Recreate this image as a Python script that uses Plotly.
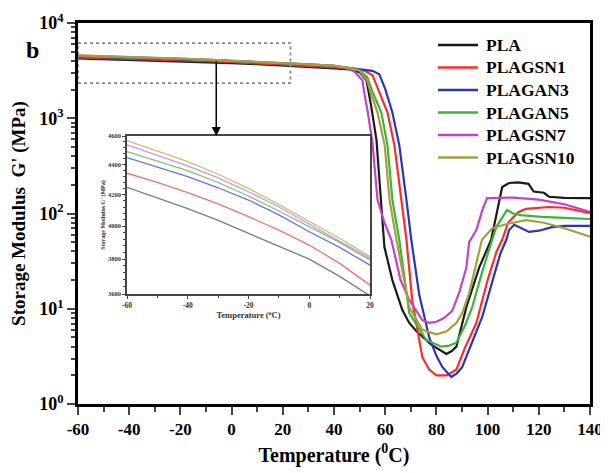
import math
import plotly.graph_objects as go

# ---------------- data ----------------
series_names = ["PLA", "PLAGSN1", "PLAGAN3", "PLAGAN5", "PLAGSN7", "PLAGSN10"]

pla_t = [-60, -50, -40, -30, -20, -10, 0, 10, 20, 30, 40, 46, 50, 52.7, 54.6, 56.6, 57.7, 59.7, 62.8, 66.7, 69.4, 72.2,
         78, 83.9, 86, 87.8, 91.7, 96.7, 101.4, 103.5, 105.7, 108.4, 112, 116, 118, 122, 124, 130, 140]
pla_v = [4248, 4180, 4110, 4035, 3955, 3880, 3800, 3700, 3590, 3470, 3340, 3250, 3050, 2500, 1300, 590, 225, 44.5, 20,
         9.7, 7.1, 5.8, 4.2, 3.35, 3.6, 4.0, 10.4, 27, 53, 100, 190, 209, 212, 205, 170, 165, 150, 146, 145]

gsn1_t = [-60, -50, -40, -30, -20, -10, 0, 10, 20, 30, 40, 48, 52, 55, 58.1, 60.9, 63.6, 66.3, 68.3, 70.6, 72.2, 74.5,
          77.2, 80, 84, 87.8, 91, 95.6, 100, 103.5, 105.7, 108, 112, 115, 124, 130, 140]
gsn1_v = [4342, 4280, 4213, 4140, 4059, 3975, 3884, 3775, 3650, 3540, 3420, 3300, 3150, 2850, 1800, 1150, 520, 139, 53,
          12, 7.1, 3.1, 2.3, 2.0, 2.0, 2.3, 3.8, 7.1, 20, 40, 53, 80, 103, 112, 117, 115, 101]

gan3_t = [-60, -50, -40, -30, -20, -10, 0, 10, 20, 30, 40, 50, 55, 57.7, 60.1, 62.8, 65.5, 68.3, 70.2, 73.3, 77.2, 80,
          82.3, 85.8, 88, 90.1, 94, 97.9, 102, 105, 107.3, 108.4, 110.4, 113, 116.2, 120, 125.2, 130, 140]
gan3_v = [4448, 4385, 4319, 4245, 4165, 4070, 3965, 3870, 3765, 3650, 3520, 3300, 3150, 2900, 2000, 1150, 520, 139, 53,
          14, 5.0, 3.2, 2.45, 1.92, 2.1, 2.45, 4.5, 8.2, 20, 38, 53, 67, 76, 70, 64, 66, 72, 74, 74]

gan5_t = [-60, -50, -40, -30, -20, -10, 0, 10, 20, 30, 40, 47, 50, 53, 55, 58.5, 60.9, 62.8, 65.5, 69.4, 72, 76, 82,
          85, 87.8, 91, 94, 98, 101.8, 103.4, 107.6, 110, 113, 121, 130, 140]
gan5_v = [4490, 4425, 4359, 4280, 4191, 4095, 3996, 3900, 3795, 3680, 3540, 3350, 3200, 2700, 1900, 1150, 520, 139, 53,
          9, 7.0, 4.7, 4.0, 4.1, 4.4, 6.5, 10.4, 25, 53, 72, 109, 100, 96, 92, 90, 87.5]

gsn7_t = [-60, -50, -40, -30, -20, -10, 0, 10, 20, 30, 40, 45, 48, 51.1, 51.9, 53, 55, 57, 59.7, 62.4, 66, 69.4, 74.5,
          77.2, 80, 83, 86.2, 89, 91.7, 92.8, 95.6, 98, 99.8, 110, 120, 130, 140]
gsn7_v = [4537, 4465, 4391, 4310, 4219, 4120, 4013, 3910, 3805, 3690, 3540, 3350, 3100, 2500, 1800, 1250, 560, 139, 80,
          53, 20, 12.4, 7.6, 7.1, 7.3, 8.0, 9.5, 15, 27, 50, 67, 110, 145, 147, 140, 125, 104]

gsn10_t = [-60, -50, -40, -30, -20, -10, 0, 10, 20, 30, 40, 46, 50, 53, 54.2, 57, 59.8, 61.7, 64.4, 69.4, 74.5, 80, 84,
           87.8, 90.1, 92.8, 96, 97.8, 101.8, 108, 115, 122, 130, 140]
gsn10_v = [4567, 4495, 4421, 4335, 4241, 4135, 4027, 3925, 3815, 3700, 3560, 3350, 3150, 2500, 1900, 1150, 520, 139, 53,
           10.4, 6.0, 5.4, 5.8, 7.1, 9, 14.6, 35, 53, 70, 78, 85, 80, 70, 57]

main_colors = ["#1a1a1a", "#ff2b2b", "#2b36b4", "#3cb43c", "#c244c2", "#a2a23c"]
inset_colors = ["#7c7c7c", "#f27070", "#6e6ee0", "#74c874", "#e28ae2", "#c2c272"]

x_ticks = [-60, -40, -20, 0, 20, 40, 60, 80, 100, 120, 140]
x_ticktext = ["-60", "-40", "-20", "0", "20", "40", "60", "80", "100", "120", "140"]
y_ticks = [1, 10, 100, 1000, 10000]
y_ticktext = ["10<sup>0</sup>", "10<sup>1</sup>", "10<sup>2</sup>", "10<sup>3</sup>", "10<sup>4</sup>"]
inset_x_ticks = [-60, -40, -20, 0, 20]
inset_x_ticktext = ["-60", "-40", "-20", "0", "20"]
inset_y_ticks = [3600, 3800, 4000, 4200, 4400, 4600]

# dotted zoom box (data units) and arrow
box_x = [-60, 23]
box_y = [2340, 6160]
arrow_x = -6

all_t = [pla_t, gsn1_t, gan3_t, gan5_t, gsn7_t, gsn10_t]
all_v = [pla_v, gsn1_v, gan3_v, gan5_v, gsn7_v, gsn10_v]

FONT = "Liberation Serif"

# plot-area geometry in page pixels; the page body adds an 8px offset
OFF = 8
L, R, T, B = 78, 590, 23, 404
FW, FH = 600, 465


def px_x(px):
    return (px - L) / (R - L)


def px_y(py):
    return (B - py) / (B - T)


fig = go.Figure()
for name, t, v, c in zip(series_names, all_t, all_v, main_colors):
    fig.add_trace(go.Scatter(x=t, y=v, mode="lines", name=name, showlegend=False,
                             line=dict(color=c, width=2.2)))
for name, t, v, c in zip(series_names, all_t, all_v, inset_colors):
    fig.add_trace(go.Scatter(x=t, y=v, mode="lines", name=name, showlegend=False,
                             xaxis="x2", yaxis="y2",
                             line=dict(color=c, width=1.3)))

minor_log = [m * 10 ** k for k in range(0, 4) for m in range(2, 10)]
inset_minor = list(range(3600, 4601, 40))

fig.update_layout(
    width=FW, height=FH,
    margin=dict(l=L - OFF, r=FW - (R - OFF), t=T - OFF, b=FH - (B - OFF)),
    paper_bgcolor="white", plot_bgcolor="white",
    font=dict(family=FONT, color="black"),
    showlegend=False,
    xaxis=dict(range=[-60, 140], tickvals=x_ticks, ticktext=x_ticktext, ticks="outside", ticklen=8, tickwidth=2.2,
               showline=True, linewidth=2.6, linecolor="black", mirror=True, showgrid=False, zeroline=False,
               automargin=False,
               tickfont=dict(family=FONT, size=17, weight="bold"),
               minor=dict(dtick=10, ticks="outside", ticklen=5, tickwidth=2, tick0=-60),
               title=dict(text="Temperature (<sup>0</sup>C)", standoff=10,
                          font=dict(family=FONT, size=20, weight="bold"))),
    yaxis=dict(type="log", range=[0, 4], tickvals=y_ticks, ticktext=y_ticktext,
               ticks="outside", ticklen=8, tickwidth=2.2, automargin=False,
               showline=True, linewidth=2.6, linecolor="black", mirror=True, showgrid=False, zeroline=False,
               tickfont=dict(family=FONT, size=18, weight="bold"),
               minor=dict(tickvals=minor_log, ticks="outside", ticklen=4, tickwidth=1.5),
               title=dict(text="Storage Modulus  G' (MPa)", standoff=10,
                          font=dict(family=FONT, size=19, weight="bold"))),
    xaxis2=dict(domain=[px_x(127), px_x(370)], anchor="y2", range=[-60, 20], tickvals=inset_x_ticks,
                ticktext=inset_x_ticktext, automargin=False,
                ticks="outside", ticklen=3, tickwidth=1, showline=True, linewidth=1.6, linecolor="#444",
                mirror=True, showgrid=False, zeroline=False,
                tickfont=dict(family=FONT, size=7.5, weight="bold", color="#333"),
                minor=dict(dtick=10, ticks="outside", ticklen=2, tick0=-60),
                title=dict(text="Temperature (<sup>o</sup>C)", standoff=3,
                           font=dict(family=FONT, size=8.5, weight="bold", color="#333"))),
    yaxis2=dict(domain=[px_y(294), px_y(136)], anchor="x2", type="log", automargin=False,
                range=[math.log10(3600), math.log10(4600)], tickvals=inset_y_ticks,
                ticks="outside", ticklen=3, tickwidth=1, showline=True, linewidth=1.6, linecolor="#444",
                mirror=True, showgrid=False, zeroline=False,
                tickfont=dict(family=FONT, size=6.5, weight="bold", color="#333"),
                minor=dict(tickvals=inset_minor, ticks="outside", ticklen=2, tickwidth=0.8),
                title=dict(text="Storage Modulus G' (MPa)", standoff=2,
                           font=dict(family=FONT, size=6, weight="bold", color="#333"))),
)

# legend drawn as line samples + text
for i, (name, c) in enumerate(zip(series_names, main_colors)):
    py = 45 + i * 22.5
    fig.add_shape(type="line", xref="paper", yref="paper", x0=px_x(438), x1=px_x(478),
                  y0=px_y(py), y1=px_y(py), line=dict(color=c, width=2.4))
    fig.add_annotation(x=px_x(484), y=px_y(py), xref="paper", yref="paper", text=name, showarrow=False,
                       xanchor="left", yanchor="middle",
                       font=dict(family=FONT, size=17.5, weight="bold", color="black"))

fig.add_shape(type="rect", xref="x", yref="y", x0=box_x[0], x1=box_x[1], y0=box_y[0], y1=box_y[1],
              line=dict(color="#888", width=1.8, dash="dot"))
fig.add_annotation(x=arrow_x, y=px_y(136), xref="x", yref="paper", ax=0, ay=-76, axref="pixel", ayref="pixel",
                   text="", showarrow=True, arrowhead=2, arrowsize=1.2, arrowwidth=1.5, arrowcolor="black")
fig.add_annotation(x=px_x(24), y=px_y(35), xref="paper", yref="paper", text="b", showarrow=False,
                   font=dict(family=FONT, size=24, weight="bold", color="black"))

fig.write_html("out.html")
